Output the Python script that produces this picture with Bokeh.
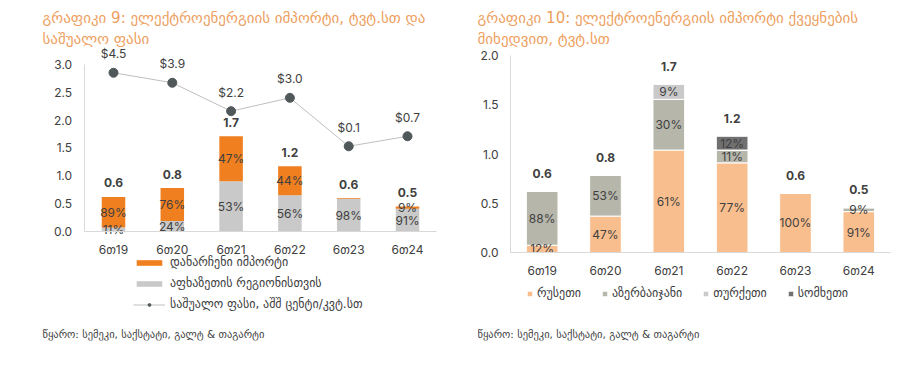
from bokeh.plotting import figure
from bokeh.models import (ColumnDataSource, Range1d, FixedTicker,
                          NumeralTickFormatter, Label, Legend, LegendItem)
from bokeh.layouts import row
from bokeh.embed import file_html
from bokeh.resources import INLINE
from bokeh.core.properties import value
import numpy as np

# ---------------- data ----------------
periods = ["6თ19", "6თ20", "6თ21", "6თ22", "6თ23", "6თ24"]

# chart 9: imports (TWh) split + average price
abkhazia = [0.07, 0.19, 0.90, 0.65, 0.59, 0.41]
other_imports = [0.55, 0.59, 0.81, 0.52, 0.01, 0.04]
total9_labels = ["0.6", "0.8", "1.7", "1.2", "0.6", "0.5"]
abkhazia_pct = ["11%", "24%", "53%", "56%", "98%", "91%"]
other_pct = ["89%", "76%", "47%", "44%", "", "9%"]
price = [4.5, 3.9, 2.2, 3.0, 0.1, 0.7]
price_labels = ["$4.5", "$3.9", "$2.2", "$3.0", "$0.1", "$0.7"]

# chart 10: imports by country (TWh)
russia = [0.074, 0.37, 1.04, 0.91, 0.60, 0.415]
azerbaijan = [0.546, 0.415, 0.515, 0.13, 0.0, 0.04]
turkey = [0.0, 0.0, 0.155, 0.0, 0.0, 0.0]
armenia = [0.0, 0.0, 0.0, 0.14, 0.0, 0.0]
russia_pct = ["12%", "47%", "61%", "77%", "100%", "91%"]
azerbaijan_pct = ["88%", "53%", "30%", "11%", "", "9%"]
turkey_pct = ["", "", "9%", "", "", ""]
armenia_pct = ["", "", "", "12%", "", ""]
total10_labels = ["0.6", "0.8", "1.7", "1.2", "0.6", "0.5"]

title9 = ["გრაფიკი 9: ელექტროენერგიის იმპორტი, ტვტ.სთ და", "საშუალო ფასი"]
title10 = ["გრაფიკი 10: ელექტროენერგიის იმპორტი ქვეყნების", "მიხედვით, ტვტ.სთ"]
legend9 = ["დანარჩენი იმპორტი", "აფხაზეთის რეგიონისთვის", "საშუალო ფასი, აშშ ცენტი/კვტ.სთ"]
legend10 = ["რუსეთი", "აზერბაიჯანი", "თურქეთი", "სომხეთი"]
source_txt = "წყარო: სემეკი, საქსტატი, გალტ & თაგარტი"

# ---------------- styles ----------------
FONT = "Inter, 'DejaVu Sans', sans-serif"
GEO = "'DejaVu Sans', sans-serif"
TXT = "#404040"
TITLE_C = "#EE9F5F"
AX_C = "#D9D9D9"
ORANGE = "#F07F1F"
LGRAY = "#C9C9C9"
C_RU, C_AZ, C_TR, C_AM = "#F9BE8E", "#B6B6AB", "#C9C9C9", "#707070"

H = 365          # figure height (page has no margin)
BOTTOM = 25      # bottom border under the frame
FB = H - BOTTOM  # frame bottom in page px
xc = np.arange(len(periods)) + 0.5   # category centres on the numeric x axis


def style(p, ymax_tick, ticks):
    p.outline_line_color = None
    p.xgrid.grid_line_color = None
    p.ygrid.grid_line_color = None
    for ax in (p.xaxis, p.yaxis):
        ax.axis_line_color = AX_C
        ax.major_tick_line_color = None
        ax.minor_tick_line_color = None
        ax.major_tick_out = 0
        ax.major_tick_in = 0
        ax.minor_tick_out = 0
        ax.minor_tick_in = 0
        ax.major_label_text_font_size = "12px"
        ax.major_label_text_color = TXT
        ax.major_label_text_font = FONT
    p.xaxis.fixed_location = 0
    p.yaxis.fixed_location = 0
    p.xaxis.bounds = (0, len(periods))
    p.xaxis.ticker = FixedTicker(ticks=list(xc))
    p.xaxis.major_label_overrides = {float(v): lab for v, lab in zip(xc, periods)}
    p.xaxis.major_label_standoff = 10
    p.yaxis.major_label_standoff = 12
    p.yaxis.ticker = FixedTicker(ticks=ticks)
    p.yaxis.formatter = NumeralTickFormatter(format="0.0")
    p.yaxis.bounds = (0, ymax_tick)


def add_text(p, y, t, off=0, bold=False, yr=None, size="12px", color=TXT):
    src = ColumnDataSource(dict(x=xc, y=y, t=t))
    kw = {}
    if yr:
        kw["y_range_name"] = yr
    p.text(x="x", y="y", text="t", source=src, text_align="center",
           text_baseline="middle", text_font=value(FONT), text_font_size=size,
           text_color=color, y_offset=off,
           text_font_style="bold" if bold else "normal", **kw)


def add_labels(p, lines, x):
    # screen px relative to the frame's bottom-left corner
    for ln, ty in zip(lines, (17, 38)):
        p.add_layout(Label(x=x, y=FB - ty, x_units="screen", y_units="screen",
                           text=ln, text_font=GEO, text_font_size="15px",
                           text_color=TITLE_C, text_baseline="middle"))
    p.add_layout(Label(x=x, y=FB - 333, x_units="screen", y_units="screen",
                       text=source_txt, text_font=GEO, text_font_size="10.5px",
                       text_color=TXT, text_baseline="middle"))


# ---------------- chart 9 ----------------
# page geometry: frame 40..443, axis x=0 at 83.6, 58.8 px per category,
# y=0 at 231, 55.7 px per unit
L1, W1 = 40, 443
x0_1, u1 = 83.6, 58.8
y0_1, v1 = 231.0, 55.7
y9 = ((y0_1 - FB) / v1, y0_1 / v1)
p1 = figure(x_range=Range1d((L1 - x0_1) / u1, (W1 - x0_1) / u1),
            y_range=Range1d(*y9), width=W1, height=H,
            output_backend="svg", toolbar_location=None,
            min_border_left=L1, min_border_right=0, min_border_top=0,
            min_border_bottom=BOTTOM)
p1.extra_y_ranges = {"price": Range1d((y9[0] - 1.5) / 0.3, (y9[1] - 1.5) / 0.3)}
style(p1, 3.0, [0, 0.5, 1.0, 1.5, 2.0, 2.5, 3.0])

src9 = ColumnDataSource(dict(x=xc, abk=abkhazia, oth=other_imports))
r_abk, r_oth = p1.vbar_stack(["abk", "oth"], x="x", width=0.4,
                             fill_color=[LGRAY, ORANGE], line_color=None,
                             source=src9)
abk = np.array(abkhazia)
oth = np.array(other_imports)
add_text(p1, list(abk / 2), abkhazia_pct)
add_text(p1, list(abk + oth / 2), other_pct)
add_text(p1, list(abk + oth), total9_labels, off=-14, bold=True)

psrc = ColumnDataSource(dict(x=xc, price=price))
r_line = p1.line(x="x", y="price", source=psrc, y_range_name="price",
                 line_color="#BFBFBF", line_width=1)
r_pts = p1.scatter(x="x", y="price", source=psrc, y_range_name="price",
                   size=9, fill_color="#50585A", line_color="#50585A")
add_text(p1, price, price_labels, off=-19, yr="price")

leg1 = Legend(items=[LegendItem(label=legend9[0], renderers=[r_oth]),
                     LegendItem(label=legend9[1], renderers=[r_abk]),
                     LegendItem(label=legend9[2], renderers=[r_line, r_pts])],
              location=(133 - L1, FB - 314), orientation="vertical",
              glyph_width=32, glyph_height=7, label_height=20, spacing=1,
              padding=0, margin=0, border_line_color=None,
              background_fill_alpha=0, label_text_font=GEO,
              label_text_font_size="12px", label_text_color=TXT,
              label_standoff=5)
p1.add_layout(leg1)
add_labels(p1, title9, 42 - L1)

# ---------------- chart 10 ----------------
# page geometry: figure starts at 443, frame 477..905, axis x=0 at 510,
# 63.33 px per category, y=0 at 252, 98.5 px per unit
OX = W1
L2, W2 = 34, 462
x0_2, u2 = 510.0, 63.33
y0_2, v2 = 252.0, 98.5
p2 = figure(x_range=Range1d((OX + L2 - x0_2) / u2, (OX + W2 - x0_2) / u2),
            y_range=Range1d((y0_2 - FB) / v2, y0_2 / v2), width=W2, height=H,
            output_backend="svg", toolbar_location=None,
            min_border_left=L2, min_border_right=0, min_border_top=0,
            min_border_bottom=BOTTOM)
style(p2, 2.0, [0, 0.5, 1.0, 1.5, 2.0])

src10 = ColumnDataSource(dict(x=xc, ru=russia, az=azerbaijan,
                              tr=turkey, am=armenia))
r_ru, r_az, r_tr, r_am = p2.vbar_stack(["ru", "az", "tr", "am"], x="x",
                                       width=0.5,
                                       fill_color=[C_RU, C_AZ, C_TR, C_AM],
                                       line_color="white", line_width=1,
                                       source=src10)
ru = np.array(russia)
az = np.array(azerbaijan)
tr = np.array(turkey)
am = np.array(armenia)
add_text(p2, list(ru / 2), russia_pct)
add_text(p2, list(ru + az / 2), azerbaijan_pct)
add_text(p2, list(ru + az + tr / 2), turkey_pct)
add_text(p2, list(ru + az + tr + am / 2), armenia_pct)
add_text(p2, list(ru + az + tr + am), total10_labels, off=-18, bold=True)

leg2 = Legend(items=[LegendItem(label=legend10[0], renderers=[r_ru]),
                     LegendItem(label=legend10[1], renderers=[r_az]),
                     LegendItem(label=legend10[2], renderers=[r_tr]),
                     LegendItem(label=legend10[3], renderers=[r_am])],
              location=(526 - OX - L2, FB - 303), orientation="horizontal",
              glyph_width=7, glyph_height=7, label_height=20, spacing=20,
              padding=0, margin=0, border_line_color=None,
              background_fill_alpha=0, label_text_font=GEO,
              label_text_font_size="12px", label_text_color=TXT,
              label_standoff=4)
p2.add_layout(leg2)
add_labels(p2, title10, 0)

layout = row(p1, p2)
open("out.html", "w").write(file_html(layout, INLINE))
